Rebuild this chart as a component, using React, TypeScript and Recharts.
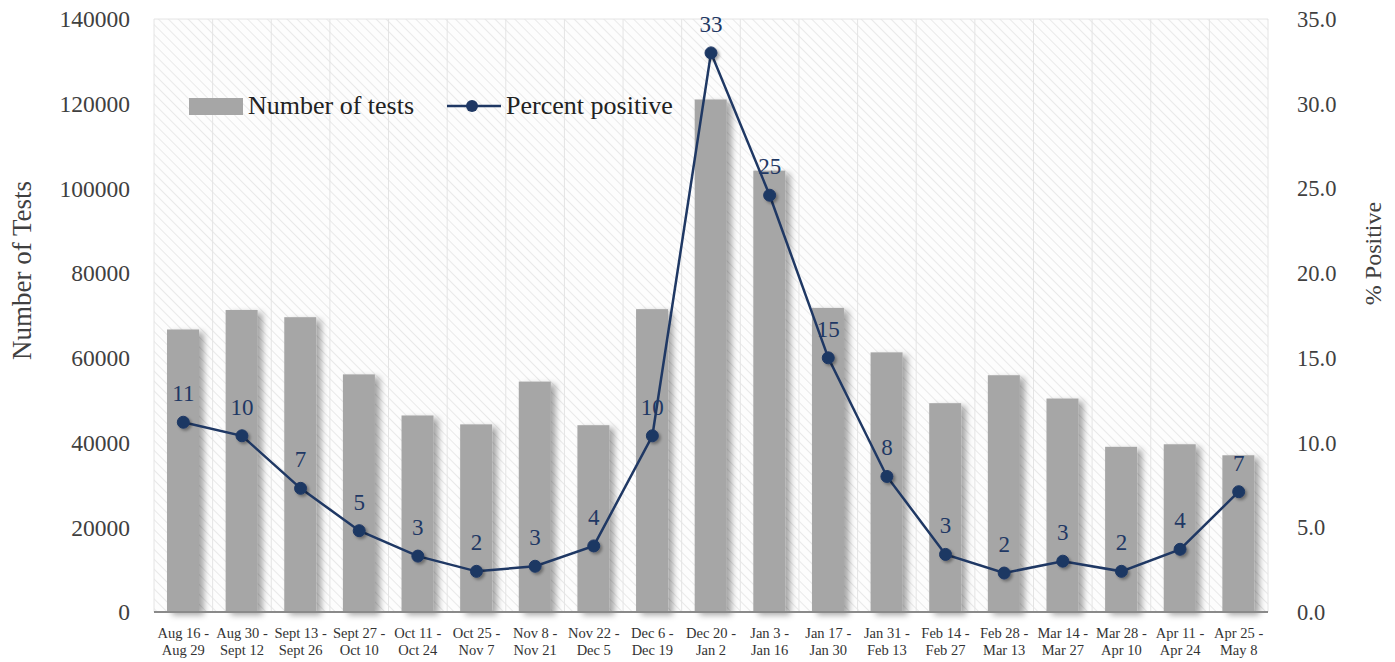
import React from 'react';
import { ComposedChart, Bar, Line, XAxis, YAxis, CartesianGrid, LabelList } from 'recharts';

// two-week reporting periods
const periodStart = [
    'Aug 16', 'Aug 30', 'Sept 13', 'Sept 27', 'Oct 11', 'Oct 25', 'Nov 8', 'Nov 22', 'Dec 6', 'Dec 20',
    'Jan 3', 'Jan 17', 'Jan 31', 'Feb 14', 'Feb 28', 'Mar 14', 'Mar 28', 'Apr 11', 'Apr 25',
];
const periodEnd = [
    'Aug 29', 'Sept 12', 'Sept 26', 'Oct 10', 'Oct 24', 'Nov 7', 'Nov 21', 'Dec 5', 'Dec 19', 'Jan 2',
    'Jan 16', 'Jan 30', 'Feb 13', 'Feb 27', 'Mar 13', 'Mar 27', 'Apr 10', 'Apr 24', 'May 8',
];
const numberOfTests = [
    66700, 71300, 69600, 56100, 46400, 44300, 54400, 44100, 71500, 121000,
    104200, 71800, 61300, 49300, 55900, 50400, 39000, 39600, 37000,
];
const percentPositive = [
    11.2, 10.4, 7.3, 4.8, 3.3, 2.4, 2.7, 3.9, 10.4, 33.0,
    24.6, 15.0, 8.0, 3.4, 2.3, 3.0, 2.4, 3.7, 7.1,
];
const testTicks = [0, 20000, 40000, 60000, 80000, 100000, 120000, 140000];
const pctTicks = [0, 5, 10, 15, 20, 25, 30, 35];

const FONT = '"Liberation Serif", "Times New Roman", serif';
const NAVY = '#1f3864';
const BAR = '#a6a6a6';
const TEXT = '#404040';

const data = periodStart.map((s, i) => ({
    period: `${s} - ${periodEnd[i]}`,
    tests: numberOfTests[i],
    pct: percentPositive[i],
}));

const PeriodTick = (props: any) => {
    const { x, y, index } = props;
    return (
        <text x={x} y={y} textAnchor="middle" fontFamily={FONT} fontSize={14.5} fill="#333">
            <tspan x={x} dy={26}>{periodStart[index]} -</tspan>
            <tspan x={x} dy={17}>{periodEnd[index]}</tspan>
        </text>
    );
};

const ShadowBar = (props: any) => {
    const { x, y, width, height } = props;
    if (!height || height <= 0) return null;
    return <rect x={x} y={y} width={width} height={height} fill={BAR} filter="url(#barShadow)" />;
};

// legend sits inside the plot area, top-left
const LegendBox = () => (
    <div style={{
        position: 'absolute', left: 189, top: 91, display: 'flex', alignItems: 'center',
        fontFamily: FONT, fontSize: 26, color: '#222', pointerEvents: 'none', whiteSpace: 'nowrap',
    }}>
        <span style={{ display: 'inline-block', width: 54, height: 17, background: BAR, marginRight: 5 }} />
        <span>Number of tests</span>
        <svg width={54} height={16} style={{ marginLeft: 33, marginRight: 5 }}>
            <line x1={0} y1={8} x2={54} y2={8} stroke={NAVY} strokeWidth={2.5} />
            <circle cx={25} cy={8} r={6} fill={NAVY} />
        </svg>
        <span>Percent positive</span>
    </div>
);

const AxisTitle = ({ x, y, text, size }: { x: number; y: number; text: string; size: number }) => (
    <text
        x={x}
        y={y}
        transform={`rotate(-90, ${x}, ${y})`}
        textAnchor="middle"
        dominantBaseline="central"
        fontFamily={FONT}
        fontSize={size}
        fill={TEXT}
    >
        {text}
    </text>
);

const App = () => {
    return (
        <div style={{ position: 'absolute', left: 0, top: 0, width: 1395, height: 662, background: '#fff' }}>
            <ComposedChart
                width={1395}
                height={662}
                data={data}
                margin={{ top: 19, right: 0, bottom: 0, left: 0 }}
            >
                <defs>
                    <pattern id="hatch" patternUnits="userSpaceOnUse" width={7} height={7} patternTransform="rotate(-45)">
                        <rect width={7} height={7} fill="#fdfdfd" />
                        <line x1={0} y1={0} x2={0} y2={7} stroke="#e9e9e9" strokeWidth={2} />
                    </pattern>
                    <filter id="barShadow" x="-30%" y="-10%" width="170%" height="130%">
                        <feDropShadow dx={5} dy={3} stdDeviation={3} floodColor="#000" floodOpacity={0.35} />
                    </filter>
                    <filter id="dotShadow" x="-60%" y="-60%" width="240%" height="240%">
                        <feDropShadow dx={2} dy={2} stdDeviation={1.5} floodColor="#000" floodOpacity={0.35} />
                    </filter>
                </defs>
                <CartesianGrid
                    fill="url(#hatch)"
                    fillOpacity={1}
                    stroke="#e4e4e4"
                    strokeWidth={1}
                    verticalCoordinatesGenerator={({ offset }: any) =>
                        Array.from({ length: data.length + 1 }, (_, i) => offset.left + (i * offset.width) / data.length)
                    }
                />
                <XAxis
                    dataKey="period"
                    interval={0}
                    height={50}
                    tickSize={0}
                    tickMargin={0}
                    tickLine={false}
                    axisLine={{ stroke: '#8a8a8a', strokeWidth: 2 }}
                    tick={<PeriodTick />}
                />
                <YAxis
                    yAxisId="tests"
                    width={154}
                    domain={[0, 140000]}
                    ticks={testTicks}
                    axisLine={false}
                    tickLine={false}
                    tickSize={0}
                    tickMargin={24}
                    tick={{ fontFamily: FONT, fontSize: 23.5, fill: TEXT }}
                    label={({ viewBox }: any) => (
                        <AxisTitle x={viewBox.x + 22} y={viewBox.y + viewBox.height / 2 - 45} text="Number of Tests" size={27} />
                    )}
                />
                <YAxis
                    yAxisId="pct"
                    orientation="right"
                    width={127}
                    domain={[0, 35]}
                    ticks={pctTicks}
                    axisLine={false}
                    tickLine={false}
                    tickSize={0}
                    tickMargin={29}
                    tickFormatter={(v: number) => v.toFixed(1)}
                    tick={{ fontFamily: FONT, fontSize: 22.5, fill: TEXT }}
                    label={({ viewBox }: any) => (
                        <AxisTitle x={viewBox.x + 105} y={viewBox.y + viewBox.height / 2 - 62} text="% Positive" size={24} />
                    )}
                />
                <Bar
                    yAxisId="tests"
                    dataKey="tests"
                    name="Number of tests"
                    barSize={32}
                    fill={BAR}
                    shape={<ShadowBar />}
                    isAnimationActive={false}
                />
                <Line
                    yAxisId="pct"
                    dataKey="pct"
                    name="Percent positive"
                    type="linear"
                    stroke={NAVY}
                    strokeWidth={2.5}
                    dot={{ r: 6, fill: NAVY, stroke: NAVY, strokeWidth: 1, filter: 'url(#dotShadow)' }}
                    activeDot={false}
                    isAnimationActive={false}
                >
                    <LabelList
                        dataKey="pct"
                        position="top"
                        offset={21}
                        formatter={(v: any) => Math.round(Number(v))}
                        fill={NAVY}
                        fontFamily={FONT}
                        fontSize={23}
                    />
                </Line>
            </ComposedChart>
            <LegendBox />
        </div>
    );
};

export default App;
